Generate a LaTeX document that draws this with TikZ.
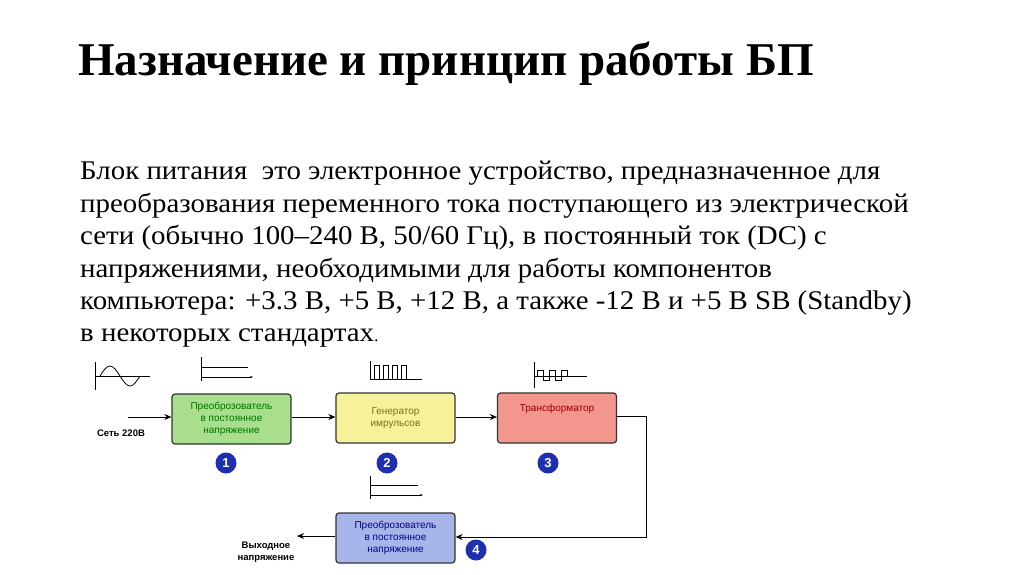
\documentclass[tikz,border=0pt]{standalone}
\usepackage{fontspec}
\usepackage{graphicx}
\setmainfont{Liberation Serif}
\newfontfamily\dsans{Liberation Sans}
\usetikzlibrary{arrows.meta}
\definecolor{cg}{HTML}{A8DE8C}
\definecolor{cy}{HTML}{F6F29C}
\definecolor{cr}{HTML}{F2968E}
\definecolor{cb}{HTML}{A6B6E8}
\definecolor{cn}{HTML}{1E2FB0}
\begin{document}
\begin{tikzpicture}[x=1pt,y=-1pt,
  blk/.style={draw=black!80,line width=1.2pt,rounded corners=3pt,minimum width=119pt,minimum height=50pt,align=center,font=\dsans\fontsize{10}{12}\selectfont,inner sep=1pt},
  num/.style={circle,fill=cn,text=white,font=\dsans\bfseries\fontsize{13}{13}\selectfont,inner sep=0pt,minimum size=21pt},
  conn/.style={line width=1pt,-{Stealth[length=7pt,width=6pt]}},
  ax/.style={line width=0.8pt}]
\useasboundingbox (0,0) rectangle (1024,574);
\node[anchor=base west,inner sep=0pt,font=\bfseries\fontsize{47}{50}\selectfont] (title) at (78,75) {Назначение и принцип работы БП};
\node[anchor=north west,inner sep=0pt] (body) at (80,157) {\scalebox{1.07}[1]{\fontsize{27}{32.4}\selectfont\begin{tabular}{@{}l@{}}Блок питания \ это электронное устройство, предназначенное для\\
преобразования переменного тока поступающего из электрической\\
сети (обычно 100–240 В, 50/60 Гц), в постоянный ток (DC) с\\
напряжениями, необходимыми для работы компонентов\\
компьютера: +3.3 В, +5 В, +12 В, а также -12 В и +5 В SB (Standby)\\
в некоторых стандартах{\fontsize{17}{17}\selectfont.}\end{tabular}}};
\node[blk,fill=cg,text=green!45!black] (b1) at (231.5,419) {Преоброзователь\\в постоянное\\напряжение};
\node[blk,fill=cy,text=olive!80!black] (b2) at (395.5,418) {Генератор\\имрульсов};
\node[blk,fill=cr,text=red!60!black] (b3) at (557,418) {Трансформатор\\[8pt]};
\node[blk,fill=cb,text=blue!60!black] (b4) at (395.5,538) {Преоброзователь\\в постоянное\\напряжение};
\node[num] (n1) at (226,463) {1};
\node[num] (n2) at (387,463) {2};
\node[num] (n3) at (548,463) {3};
\node[num] (n4) at (476,550) {4};
\node[font=\dsans\bfseries\fontsize{9.5}{11}\selectfont] (in) at (121,433) {Сеть 220В};
\coordinate (inS) at (128,417);
\node[font=\dsans\bfseries\fontsize{9.5}{12}\selectfont,align=center] (out) at (266,552) {Выходное\\напряжение};
\coordinate (outE) at (297,536);
\coordinate (rt) at (646,416);
\coordinate (rb) at (646,537);
\draw[conn] (inS) -- (inS -| b1.west);
\draw[conn] (b1.east |- 0,417) -- (b2.west |- 0,417);
\draw[conn] (b2.east |- 0,417) -- (b3.west |- 0,417);
\draw[conn] (b3.east |- rt) -- (rt) -- (rb) -- (b4.east |- rb);
\draw[conn] (b4.west |- outE) -- (outE);
% sine icon
\draw[ax] (95,362) -- (95,390); \draw[ax] (95,376) -- (150,376);
\draw[ax] (100,376) sin (110,366) cos (120,376) sin (130,386) cos (140,376);
% dc icon 1
\draw[ax] (201,357) -- (201,381); \draw[ax] (201,367) -- (248,367);
\draw[ax,-{Stealth[length=3pt]}] (201,377) -- (253,377);
% pulses
\draw[ax] (370,361) -- (370,379) -- (422,379);
\draw[ax] (370,379) -- (374,379) -- (374,365) -- (379,365) -- (379,379) -- (383,379) -- (383,365) -- (388,365) -- (388,379) -- (392,379) -- (392,365) -- (397,365) -- (397,379) -- (401,379) -- (401,365) -- (406,365) -- (406,379);
% transformer icon
\draw[ax] (534,362) -- (534,388); \draw[ax] (534,376) -- (587,376);
\draw[ax] (534,376) -- (537,376) -- (537,370) -- (543,370) -- (543,380) -- (549,380) -- (549,370) -- (555,370) -- (555,380) -- (561,380) -- (561,370) -- (567,370) -- (567,376);
% dc icon 2
\draw[ax] (370,476) -- (370,499); \draw[ax] (370,485) -- (418,485);
\draw[ax,-{Stealth[length=3pt]}] (370,495) -- (423,495);
\end{tikzpicture}
\end{document}
